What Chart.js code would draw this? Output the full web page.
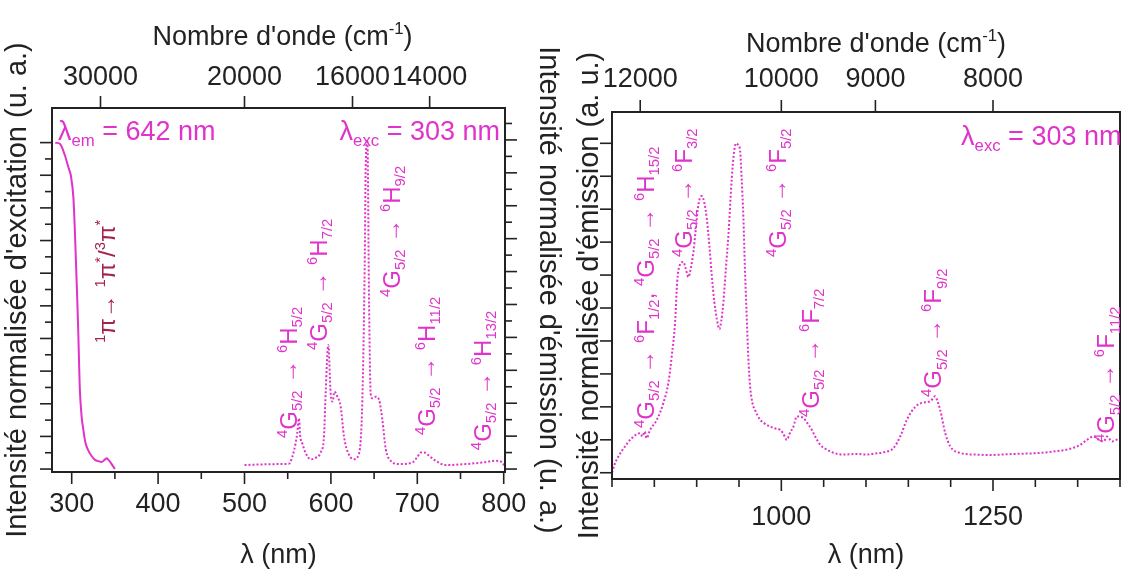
<!DOCTYPE html>
<html lang="fr">
<head>
<meta charset="UTF-8">
<title>Excitation / émission</title>
<script src="https://cdn.jsdelivr.net/npm/chart.js"></script>
<style>
  body { margin: 0; background: #fff; }
  #wrap { position: relative; width: 1124px; height: 569px; background: #fff; }
  #left { position: absolute; left: 0; top: 0; }
  #right { position: absolute; left: 565px; top: 0; }
</style>
</head>
<body>
<div id="wrap">
  <canvas id="left" width="565" height="569"></canvas>
  <canvas id="right" width="559" height="569"></canvas>
</div>
<script>
// --- data ---
// excitation spectrum (solid), lambda_em = 642 nm
const excWl  = [281, 286.5, 292, 296, 299, 302, 305, 307.5, 309.5, 311.5, 313.5, 316, 319, 323, 327, 331, 335, 338, 340.5, 342.5, 344.5, 347, 350];
const excInt = [1.0, 0.996, 0.962, 0.926, 0.9, 0.83, 0.63, 0.43, 0.24, 0.16, 0.12, 0.08, 0.058, 0.04, 0.028, 0.024, 0.022, 0.028, 0.033, 0.028, 0.022, 0.012, 0.0];

// visible emission (dotted), lambda_exc = 303 nm
const visWl  = [500, 520, 540, 551.5, 555.3, 559.1, 561, 563, 564.5, 566.9, 570.7, 576.5, 582.3, 588.1, 592, 593.9, 597, 599.7, 602, 604, 607.5, 611.3, 615.2, 621, 626.8, 632.6, 636.4, 639.1, 640.3, 642.2, 644.2, 646, 648, 652, 655.8, 659.6, 663.5, 669.3, 679, 694.4, 700.2, 704, 708, 713.7, 721.4, 733, 756, 775.6, 790.7, 798.6, 800.6];
const visInt = [0.012, 0.014, 0.015, 0.016, 0.037, 0.078, 0.109, 0.154, 0.1, 0.078, 0.049, 0.03, 0.034, 0.05, 0.1, 0.23, 0.377, 0.23, 0.205, 0.235, 0.22, 0.19, 0.098, 0.043, 0.03, 0.048, 0.21, 0.615, 0.92, 1.0, 0.5, 0.23, 0.215, 0.22, 0.21, 0.149, 0.06, 0.025, 0.015, 0.02, 0.037, 0.05, 0.05, 0.04, 0.025, 0.012, 0.015, 0.02, 0.025, 0.02, 0.01];

// near-IR emission (dotted), lambda_exc = 303 nm
const nirWl  = [800, 803, 807.5, 815.4, 823.3, 833, 836, 838.5, 841, 845, 852.8, 860.7, 866.6, 870.6, 874.5, 877, 880, 884.3, 887, 890.2, 893, 896.1, 899, 902, 906, 909, 911.9, 915, 917.8, 920.8, 923.8, 926.9, 929, 931.6, 934.5, 937.5, 941.5, 944, 946.6, 949, 951.3, 953, 955.2, 957, 959.2, 961, 963.1, 966, 969, 974.9, 980, 986.8, 992, 998.6, 1002, 1006.5, 1010, 1014.3, 1018.3, 1022, 1026.2, 1031, 1036, 1041, 1045.9, 1053.8, 1065, 1073.4, 1080, 1089.2, 1100, 1110, 1120.7, 1132.5, 1140.4, 1148.3, 1158.2, 1166, 1175.9, 1181.8, 1184, 1187.7, 1193.6, 1199.5, 1211.3, 1230, 1246.8, 1266, 1286.2, 1305, 1325.6, 1340, 1353.2, 1361.1, 1369, 1375, 1380.7, 1384.7, 1390.6, 1395, 1400];
const nirInt = [0.0, 0.025, 0.049, 0.08, 0.105, 0.12, 0.11, 0.125, 0.105, 0.13, 0.16, 0.212, 0.273, 0.355, 0.457, 0.58, 0.63, 0.64, 0.62, 0.594, 0.62, 0.67, 0.74, 0.813, 0.84, 0.82, 0.773, 0.69, 0.6, 0.52, 0.467, 0.436, 0.46, 0.518, 0.62, 0.722, 0.895, 0.97, 1.0, 0.995, 0.977, 0.9, 0.773, 0.62, 0.467, 0.35, 0.263, 0.21, 0.19, 0.161, 0.15, 0.14, 0.135, 0.13, 0.12, 0.1, 0.12, 0.14, 0.171, 0.17, 0.166, 0.15, 0.13, 0.105, 0.085, 0.07, 0.058, 0.055, 0.056, 0.057, 0.055, 0.058, 0.062, 0.075, 0.11, 0.161, 0.2, 0.212, 0.217, 0.232, 0.22, 0.19, 0.12, 0.08, 0.06, 0.055, 0.054, 0.056, 0.058, 0.06, 0.066, 0.072, 0.085, 0.1, 0.11, 0.1, 0.095, 0.11, 0.095, 0.1, 0.1];

// axis ticks
const leftBottomTicks  = [300, 400, 500, 600, 700, 800];
const leftTopTicks     = [30000, 20000, 16000, 14000];   // cm-1
const rightBottomTicks = [1000, 1250];
const rightTopTicks    = [12000, 10000, 9000, 8000];     // cm-1

// texts
const leftAxisTitle   = "Intensité normalisée d'excitation (u. a.)";
const left2AxisTitle  = "Intensité normalisée d'émission (u. a.)";
const rightAxisTitle  = "Intensité normalisée d'émission (a. u.)";
const xAxisTitle      = 'λ (nm)';
const topAxisTitle    = "Nombre d'onde (cm^{-1})";
const emLabel         = 'λ_{em} = 642 nm';
const excLabel        = 'λ_{exc} = 303 nm';
const piLabel         = '^{1}π→ ^{1}π^{*}/^{3}π^{*}';
const leftTransitions = ['^{4}G_{5/2} → ^{6}H_{5/2}', '^{4}G_{5/2} → ^{6}H_{7/2}', '^{4}G_{5/2} → ^{6}H_{9/2}',
                         '^{4}G_{5/2} → ^{6}H_{11/2}', '^{4}G_{5/2} → ^{6}H_{13/2}'];
const rightTransitions = ['^{4}G_{5/2} → ^{6}F_{1/2}, ^{4}G_{5/2} → ^{6}H_{15/2}', '^{4}G_{5/2} → ^{6}F_{3/2}',
                          '^{4}G_{5/2} → ^{6}F_{5/2}', '^{4}G_{5/2} → ^{6}F_{7/2}', '^{4}G_{5/2} → ^{6}F_{9/2}',
                          '^{4}G_{5/2} → ^{6}F_{11/2}'];

const MAGENTA = '#e033c9';
const DARKRED = '#a3234f';
const INK = '#222';
const FONT = "'Liberation Sans', Arial, sans-serif";

Chart.defaults.font.family = FONT;
Chart.defaults.color = INK;

function steps(from, to, step) {
  const out = [];
  for (let v = from; v <= to + 1e-9; v += step) out.push(Math.round(v * 1000) / 1000);
  return out;
}
const xy = (xs, ys) => xs.map((x, i) => ({ x, y: ys[i] }));

// text with ^{sup} and _{sub}
function parseRich(str) {
  const parts = [];
  const re = /([\^_])\{([^}]*)\}|([^\^_]+)/g;
  let m;
  while ((m = re.exec(str))) {
    if (m[1]) parts.push({ t: m[2], k: m[1] === '^' ? 'sup' : 'sub' });
    else parts.push({ t: m[3], k: '' });
  }
  return parts;
}
function drawRich(ctx, str, x, y, size, color, rotate, align) {
  const parts = parseRich(str);
  ctx.save();
  ctx.translate(x, y);
  if (rotate) ctx.rotate(-Math.PI / 2);
  ctx.fillStyle = color;
  ctx.textBaseline = 'alphabetic';
  ctx.textAlign = 'left';
  let total = 0;
  parts.forEach(p => {
    p.size = p.k ? size * 0.62 : size;
    p.dy = p.k === 'sup' ? -size * 0.42 : p.k === 'sub' ? size * 0.22 : 0;
    ctx.font = p.size + 'px ' + FONT;
    p.w = ctx.measureText(p.t).width;
    total += p.w;
  });
  let cx = align === 'right' ? -total : align === 'center' ? -total / 2 : 0;
  parts.forEach(p => {
    ctx.font = p.size + 'px ' + FONT;
    ctx.fillText(p.t, cx, p.dy);
    cx += p.w;
  });
  ctx.restore();
}

// frame + outward tick marks
const framePlugin = {
  id: 'frame',
  afterDraw(chart, args, opts) {
    const { ctx, chartArea: a } = chart;
    ctx.save();
    ctx.strokeStyle = INK;
    ctx.lineWidth = 2;
    ctx.strokeRect(a.left, a.top, a.right - a.left, a.bottom - a.top);
    ctx.lineWidth = 1.6;
    (opts.marks || []).forEach(m => {
      const s = chart.scales[m.axis];
      m.values.forEach(v => {
        const p = s.getPixelForValue(v);
        ctx.beginPath();
        if (s.position === 'bottom') { ctx.moveTo(p, a.bottom); ctx.lineTo(p, a.bottom + m.len); }
        else if (s.position === 'top') { ctx.moveTo(p, a.top); ctx.lineTo(p, a.top - m.len); }
        else if (s.position === 'left') { ctx.moveTo(a.left, p); ctx.lineTo(a.left - m.len, p); }
        else { ctx.moveTo(a.right, p); ctx.lineTo(a.right + m.len, p); }
        ctx.stroke();
      });
    });
    ctx.restore();
  }
};

// labels anchored in data coordinates
const labelPlugin = {
  id: 'richLabels',
  afterDraw(chart, args, opts) {
    const { ctx, chartArea: a } = chart;
    (opts.items || []).forEach(it => {
      const x = chart.scales[it.xAxis || 'x'].getPixelForValue(it.x);
      const y = chart.scales[it.yAxis || 'y'].getPixelForValue(it.y);
      drawRich(ctx, it.text, x, y, it.size, it.color, it.rotate, it.align);
    });
    if (opts.topTitle) {
      const t = opts.topTitle;
      drawRich(ctx, t.text, (a.left + a.right) / 2 + t.dx, t.baseline, t.size, INK, false, 'center');
    }
  }
};

function baseScale(extra) {
  return Object.assign({
    type: 'linear',
    grid: { display: false, drawTicks: false },
    border: { display: false }
  }, extra);
}
function wavenumberScale(min, max, labels, pad, height) {
  return baseScale({
    position: 'top', min, max,
    afterBuildTicks: s => { s.ticks = labels.map(w => ({ value: 1e7 / w })); },
    ticks: { font: { size: 27 }, color: INK, padding: pad, maxRotation: 0, autoSkip: false,
             callback: (v, i) => String(labels[i]) },
    afterFit: s => { s.height = height; }
  });
}
function lambdaScale(min, max, labels, pad, height, titlePad) {
  return baseScale({
    position: 'bottom', min, max,
    afterBuildTicks: s => { s.ticks = labels.map(v => ({ value: v })); },
    ticks: { font: { size: 27 }, color: INK, padding: pad, maxRotation: 0, autoSkip: false,
             callback: v => String(v) },
    title: { display: true, text: xAxisTitle, color: INK, font: { size: 27, lineHeight: 1 },
             padding: { top: titlePad, bottom: 0 } },
    afterFit: s => { s.height = height; }
  });
}
function intensityScale(position, min, max, title, titlePad, width) {
  return baseScale({
    position, min, max,
    ticks: { display: false },
    title: { display: true, text: title, color: INK, font: { size: 29, lineHeight: 1 },
             padding: { top: titlePad, bottom: 0 } },
    afterFit: s => { s.width = width; }
  });
}

const dotted = { borderColor: MAGENTA, borderWidth: 2, borderDash: [2, 2], pointRadius: 0,
                 showLine: true, cubicInterpolationMode: 'monotone' };

// ---------- left panel: excitation + visible emission ----------
new Chart(document.getElementById('left'), {
  type: 'scatter',
  data: {
    datasets: [
      { label: 'Excitation', data: xy(excWl, excInt), xAxisID: 'x', yAxisID: 'y',
        borderColor: MAGENTA, borderWidth: 2, pointRadius: 0, showLine: true, tension: 0.3 },
      Object.assign({ label: 'Émission', data: xy(visWl, visInt), xAxisID: 'x', yAxisID: 'y2' }, dotted)
    ]
  },
  options: {
    responsive: false,
    animation: false,
    layout: { padding: 0 },
    plugins: {
      legend: { display: false },
      tooltip: { enabled: false },
      frame: {
        marks: [
          { axis: 'x', values: steps(300, 800, 100), len: 12 },
          { axis: 'x', values: steps(350, 750, 100), len: 7 },
          { axis: 'xTop', values: leftTopTicks.map(w => 1e7 / w), len: 12 },
          { axis: 'y', values: steps(0, 1, 0.1), len: 12 },
          { axis: 'y', values: steps(0.05, 0.95, 0.1), len: 7 },
          { axis: 'y2', values: steps(0, 1, 0.1), len: 12 },
          { axis: 'y2', values: steps(0.05, 1.05, 0.1), len: 7 }
        ]
      },
      richLabels: {
        topTitle: { text: topAxisTitle, dx: 4, baseline: 45, size: 27 },
        items: [
          { text: emLabel, x: 284.1, y: 1.008, size: 27, color: MAGENTA },
          { text: excLabel, x: 795.7, y: 1.008, size: 27, color: MAGENTA, align: 'right' },
          { text: piLabel, x: 350.1, y: 0.386, size: 24, color: DARKRED, rotate: true },
          { text: leftTransitions[0], x: 560.8, y: 0.095, size: 24, color: MAGENTA, rotate: true },
          { text: leftTransitions[1], x: 595.5, y: 0.365, size: 24, color: MAGENTA, rotate: true },
          { text: leftTransitions[2], x: 680.0, y: 0.527, size: 24, color: MAGENTA, rotate: true },
          { text: leftTransitions[3], x: 720.5, y: 0.104, size: 24, color: MAGENTA, rotate: true },
          { text: leftTransitions[4], x: 785.3, y: 0.058, size: 24, color: MAGENTA, rotate: true }
        ]
      }
    },
    scales: {
      x: lambdaScale(277.2, 801.5, leftBottomTicks, 16.8, 97, 2.5),
      xTop: wavenumberScale(277.2, 801.5, leftTopTicks, 13.8, 108),
      y: intensityScale('left', -0.009, 1.106, leftAxisTitle, 3.5, 52),
      y2: intensityScale('right', -0.009, 1.097, left2AxisTitle, 2.5, 60)
    }
  },
  plugins: [framePlugin, labelPlugin]
});

// ---------- right panel: near-IR emission ----------
new Chart(document.getElementById('right'), {
  type: 'scatter',
  data: {
    datasets: [
      Object.assign({ label: 'Émission NIR', data: xy(nirWl, nirInt), xAxisID: 'x', yAxisID: 'y' }, dotted)
    ]
  },
  options: {
    responsive: false,
    animation: false,
    layout: { padding: { right: 4 } },
    plugins: {
      legend: { display: false },
      tooltip: { enabled: false },
      frame: {
        marks: [
          { axis: 'x', values: rightBottomTicks, len: 12 },
          { axis: 'x', values: steps(800, 1400, 50).filter(v => !rightBottomTicks.includes(v)), len: 8 },
          { axis: 'xTop', values: rightTopTicks.map(w => 1e7 / w), len: 12 },
          { axis: 'y', values: steps(0, 1, 0.1), len: 12 }
        ]
      },
      richLabels: {
        topTitle: { text: topAxisTitle, dx: 10, baseline: 52, size: 27 },
        items: [
          { text: excLabel, x: 1401.7, y: 0.995, size: 27, color: MAGENTA, align: 'right' },
          { text: rightTransitions[0], x: 849.6, y: 0.136, size: 24, color: MAGENTA, rotate: true },
          { text: rightTransitions[1], x: 894.6, y: 0.655, size: 24, color: MAGENTA, rotate: true },
          { text: rightTransitions[2], x: 1005.7, y: 0.655, size: 24, color: MAGENTA, rotate: true },
          { text: rightTransitions[3], x: 1044.7, y: 0.169, size: 24, color: MAGENTA, rotate: true },
          { text: rightTransitions[4], x: 1188.9, y: 0.23, size: 24, color: MAGENTA, rotate: true },
          { text: rightTransitions[5], x: 1393.4, y: 0.093, size: 24, color: MAGENTA, rotate: true }
        ]
      }
    },
    scales: {
      x: lambdaScale(800, 1400, rightBottomTicks, 22.8, 90, 0),
      xTop: wavenumberScale(800, 1400, rightTopTicks, 15.8, 112),
      y: intensityScale('left', -0.019, 1.095, rightAxisTitle, 10.5, 47)
    }
  },
  plugins: [framePlugin, labelPlugin]
});
</script>
</body>
</html>
